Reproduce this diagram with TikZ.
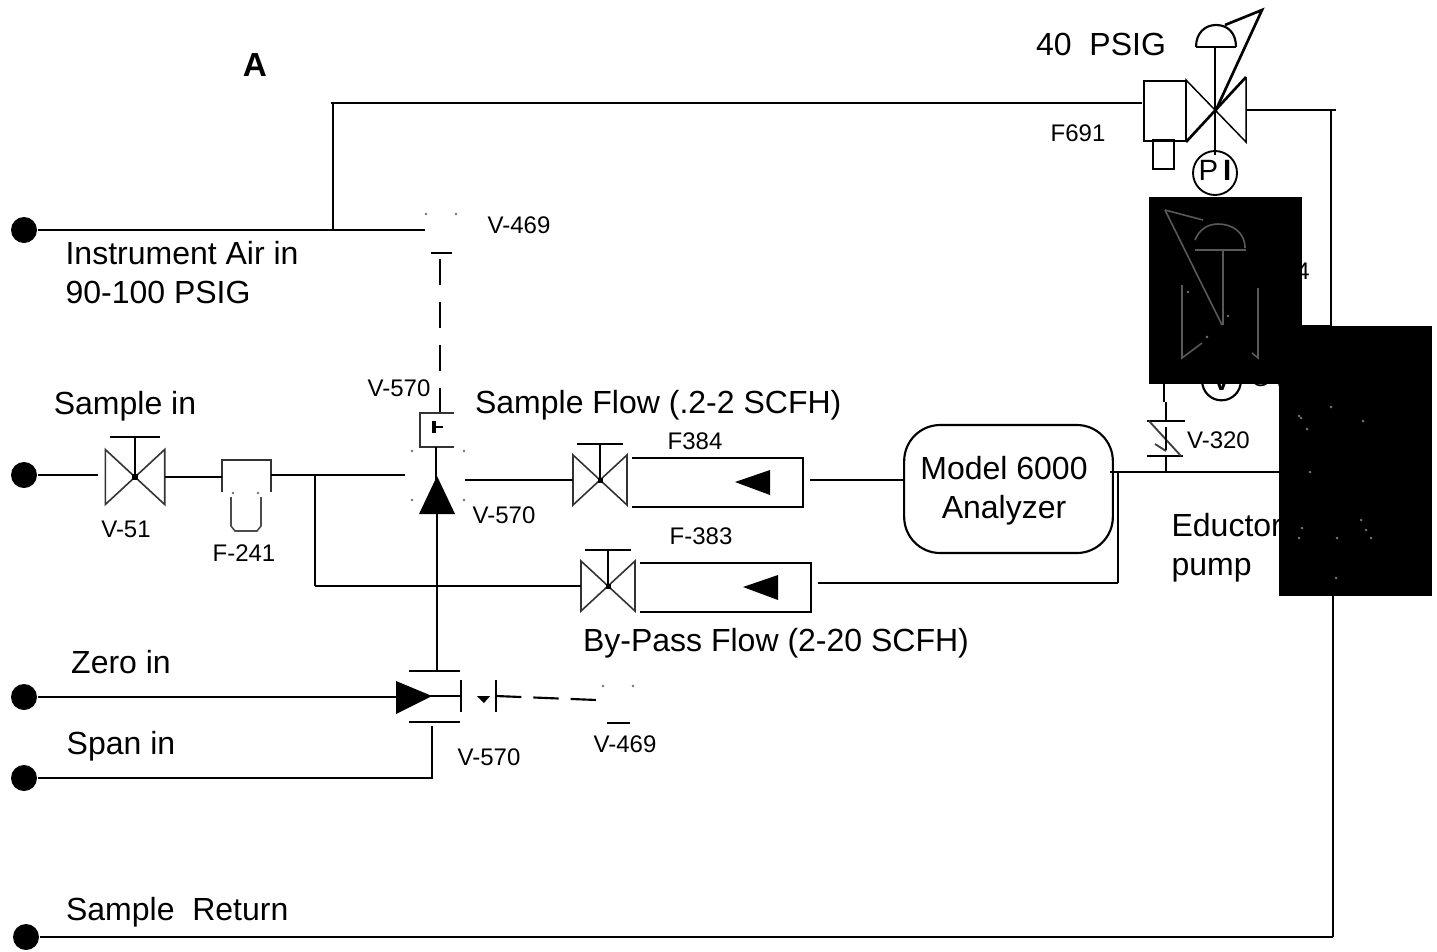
\documentclass[tikz,border=0pt]{standalone}
\usepackage{xcolor}
\usepackage{fontspec}
\setmainfont{Liberation Sans}
\usepackage{tikz}
\usetikzlibrary{positioning}

\begin{document}
\begin{tikzpicture}[x=0.75pt, y=-0.75pt, line width=1.6pt]
\tikzstyle{label} = [inner sep=0pt, font=\fontsize{24}{28}\selectfont]
\tikzstyle{tag} = [inner sep=0pt, font=\fontsize{18}{21}\selectfont]
\tikzstyle{port} = [circle, fill=black, inner sep=0pt, minimum size=19.5pt]
\tikzstyle{speck} = [circle, fill=black!55, inner sep=0pt, minimum size=2.2pt]
\tikzstyle{ghost} = [draw=black!65, line width=1.2pt]
\tikzstyle{thin box} = [line width=0.9pt]
\tikzstyle{mask} = [fill=black, draw=none]
\tikzset{handvalve/.pic={
  \draw [line width=1.2pt, black!80] (-27,-25) -- (-27,25) -- (27,-25) -- (27,25) -- cycle;
  \draw (0,-36) -- (0,0);
  \draw (-23,-36) -- (23,-36);
  \fill (-2.5,-2.5) rectangle (2.5,2.5);
  \coordinate (-l) at (-27,0);
  \coordinate (-r) at (27,0);
}}
\useasboundingbox (0,0) rectangle (1437,951);

% ports on the left
\node [port] (air) at (24,230) {};
\node [port] (sample) at (24,475) {};
\node [port] (zero) at (24,697) {};
\node [port] (span) at (24,778) {};
\node [port] (return) at (26,937) {};

% valves
\pic [scale=1.1] (v51) at (135,477) {handvalve};
\pic (v384) at (600,480) {handvalve};
\pic (v383) at (608,586) {handvalve};

% filter F-241
\coordinate (f241l) at (222,477);
\coordinate (f241r) at (271,475);
\draw [line width=1.2pt, black!80] (222,492) -- (222,460) -- (271,460) -- (271,492);
\draw [line width=1.2pt, black!70] (231,497) -- (231,526) -- (235,531) -- (257,531) -- (261,526) -- (261,497);
\node [speck] (f241a) at (233,493) {};
\node [speck] (f241b) at (258,493) {};

% rotameters
\draw (632,458) -- (803,458) -- (803,507) -- (632,507);
\fill (735,482) -- (770,470) -- (770,495) -- cycle;
\draw (640,563) -- (811,563) -- (811,612) -- (640,612);
\fill (743,587) -- (778,575) -- (778,600) -- cycle;
\coordinate (f384r) at (810,480);
\coordinate (f383r) at (818,583);

% analyzer
\node [draw, rounded corners=27pt, minimum width=156.5pt, minimum height=96pt, inner sep=0pt] (model) at (1008.5,489) {};
\node [label, align=center] (modeltext) at (1004,491) {Model 6000\\[1.25pt]Analyzer};

% three way valve on top of the sample line
\draw [line width=1.2pt, black!80] (454,413) -- (420,413) -- (420,447) -- (454,447);
\draw [line width=2.5pt] (434,421) -- (434,433);
\draw (434,427) -- (443,427);
\node [speck] (d1) at (412,451) {};
\node [speck] (d2) at (464,451) {};
\node [speck] (d3) at (412,500) {};
\node [speck] (d4) at (464,500) {};
\fill (437,476) -- (455,514) -- (419,514) -- cycle;
\draw (436,447) -- (436,480);
\coordinate (v570bl) at (405,475);
\coordinate (v570br) at (465,480);
\coordinate (v570bb) at (437,514);
\coordinate (v570bt) at (440,412);

% three way valve at the bottom
\fill (396,681) -- (432,696) -- (396,714) -- cycle;
\draw (396,696) -- (461,696);
\draw (461,680) -- (461,712);
\draw (409,671) -- (460,671);
\draw (409,722) -- (460,722);
\fill (477,696) -- (490,696) -- (484,703) -- cycle;
\coordinate (v570ct) at (437,671);
\coordinate (v570cl) at (396,697);
\coordinate (v570cb) at (432,726);

% pilot valves
\coordinate (v469al) at (425,230);
\coordinate (v469ab) at (440,259);
\node [speck] (v469a1) at (426,214) {};
\node [speck] (v469a2) at (456,214) {};
\draw (431,253) -- (452,253);
\coordinate (v469bl) at (597,700);
\coordinate (v469br) at (496,696);
\node [speck] (v469b1) at (603,686) {};
\node [speck] (v469b2) at (633,686) {};
\draw (607,723) -- (630,723);
\draw (496,680) -- (496,712);

% regulator F691
\draw [thin box] (1144,81) rectangle (1186,141);
\draw [thin box] (1153,140) rectangle (1174,169);
\draw [line width=1.1pt] (1186,142) -- (1186,80) -- (1246,142) -- (1246,77);
\draw [line width=2pt] (1186,142) -- (1246,77);
\draw (1215,48) -- (1215,155);
\draw (1196,47) -- (1236,47);
\draw (1196,47) .. controls (1196,33) and (1205,25) .. (1216,25) .. controls (1228,25) and (1236,33) .. (1236,47);
\draw [line width=2pt] (1225,25) -- (1262,10) -- (1215,112);
\node [draw, circle, minimum size=33pt, inner sep=0pt, line width=1.4pt] (pi) at (1215,173) {};
\node [inner sep=0pt, font=\fontsize{22}{26}\selectfont] (pitext) at (1215,170) {P\,\textbf{I}};
\coordinate (f691l) at (1142,103);
\coordinate (f691r) at (1246,110);

% V-320
\draw (1147,421) -- (1185,421);
\draw (1147,456) -- (1183,456);
\draw [line width=1.4pt, black!75] (1149,421) -- (1181,456);
\draw [line width=1.4pt, black!75] (1155,444) -- (1166,451);
\draw (1166,402) -- (1166,421);
\draw (1166,427) -- (1166,450);
\coordinate (v320b) at (1166,456);
\coordinate (v320f) at (1166,472);
\coordinate (up) at (1164,384);
\coordinate (upend) at (1164,402);
\node [draw, circle, minimum size=29pt, inner sep=0pt] (gauge) at (1221.5,381) {};
\node [inner sep=0pt, font=\bfseries\fontsize{20}{24}\selectfont] (gaugetext) at (1221.5,381) {V};
\node [tag, anchor=base west] (gaugetail) at (1250,386) {G ....};

% piping
\coordinate (airtee) at (333,230);
\coordinate (airtop) at (333,103);
\coordinate (sampletee) at (315,475);
\coordinate (bypass) at (315,586);
\coordinate (outtee) at (1118,472);
\coordinate (outend) at (1118,583);
\coordinate (retr) at (1336,110);
\coordinate (retv) at (1331,110);
\coordinate (retbox) at (1331,326);
\coordinate (retlow) at (1333,596);
\coordinate (retend) at (1333,937);
\coordinate (eductor) at (1279,472);
\coordinate (outleft) at (1110,472);

\draw (air) -- (v469al);
\draw (airtee) -- (airtop);
\draw (331,103) -- (f691l);
\draw (f691r) -- (retr);
\draw (retv) -- (retbox);
\draw (1302,326) -- (retbox);
\draw (retlow) -- (retend);
\draw (return) -- (retend);
\draw (sample) -- (98,475);
\draw (v51-r) -- (f241l);
\draw (f241r) -- (v570bl);
\draw (v570br) -- (v384-l);
\draw (sampletee) -- (bypass);
\draw (bypass) -- (v383-l);
\draw (v570bb) -- (v570ct);
\draw (zero) -- (v570cl);
\draw (span) -- (433,778);
\draw (v570cb) -- (432,778);
\draw (f384r) -- (904,480);
\draw (f383r) -- (outend);
\draw (outleft) -- (eductor);
\draw (outtee) -- (outend);
\draw (v320b) -- (v320f);
\draw (up) -- (upend);
\draw [dash pattern=on 19.5pt off 12.8pt] (v469ab) -- (v570bt);
\draw [dash pattern=on 19pt off 9pt] (v469br) -- (v469bl);

% labels
\node [inner sep=0pt, font=\bfseries\fontsize{25}{30}\selectfont] (title) at (255,65) {A};
\node [label, anchor=west] (psig) at (1035,44) {40~ PSIG};
\node [tag] (f691) at (1078,133) {F691};
\node [tag] (v469a) at (519,225) {V-469};
\node [label, anchor=west, align=left] (airlabel) at (64.5,273) {Instrument Air in\\[1.25pt]90-100 PSIG};
\node [label] (samplelabel) at (125,406) {Sample in};
\node [tag] (v570a) at (399,388) {V-570};
\node [label, anchor=west] (flowa) at (474,405) {Sample Flow (.2-2 SCFH)};
\node [tag] (v51) at (126,529) {V-51};
\node [tag] (f241) at (244,553) {F-241};
\node [tag] (v570b) at (504,515) {V-570};
\node [tag] (f384) at (695,441) {F384};
\node [tag] (f383) at (701,536) {F-383};
\node [label, anchor=west] (flowb) at (582,643) {By-Pass Flow (2-20 SCFH)};
\node [label] (zerolabel) at (121,662) {Zero in};
\node [label] (spanlabel) at (121,746) {Span in};
\node [tag] (v570c) at (489,757) {V-570};
\node [tag] (v469b) at (625,744) {V-469};
\node [label, anchor=west] (returnlabel) at (65,912) {Sample~ Return};
\node [tag, anchor=west] (v320) at (1186,440) {V-320};
\node [label, anchor=west, align=left] (pumplabel) at (1170.5,548) {Eductor\\[1.25pt]pump};
\node [tag] (fourlabel) at (1303,271) {4};

% the two dark patches
\fill [mask] (1149,197) rectangle (1302,384);
\fill [mask] (1279,326) rectangle (1432,596);

% outlines inside the first patch
\draw [ghost] (1165,210) -- (1203,220);
\draw [ghost] (1165,210) -- (1222,325);
\draw [ghost] (1195,240) .. controls (1199,230) and (1207,224) .. (1218,224) .. controls (1232,224) and (1245,232) .. (1245,248);
\draw [ghost] (1195,250) -- (1246,250);
\draw [ghost] (1223,250) -- (1223,325);
\draw [ghost] (1182,285) -- (1182,358) -- (1202,343);
\draw [ghost] (1258,288) -- (1258,358) -- (1252,353);
\node [speck] (g1) at (1188,292) {};
\node [speck] (g2) at (1228,316) {};
\node [speck] (g3) at (1207,337) {};

% specks inside the second patch
\node [speck] (s1) at (1331,407) {};
\node [speck] (s2) at (1299,416) {};
\node [speck] (s3) at (1301,418) {};
\node [speck] (s4) at (1307,429) {};
\node [speck] (s5) at (1363,421) {};
\node [speck] (s6) at (1310,472) {};
\node [speck] (s7) at (1302,528) {};
\node [speck] (s8) at (1299,538) {};
\node [speck] (s9) at (1337,538) {};
\node [speck] (s10) at (1361,520) {};
\node [speck] (s11) at (1366,530) {};
\node [speck] (s12) at (1371,538) {};
\node [speck] (s13) at (1336,578) {};
\end{tikzpicture}
\end{document}
